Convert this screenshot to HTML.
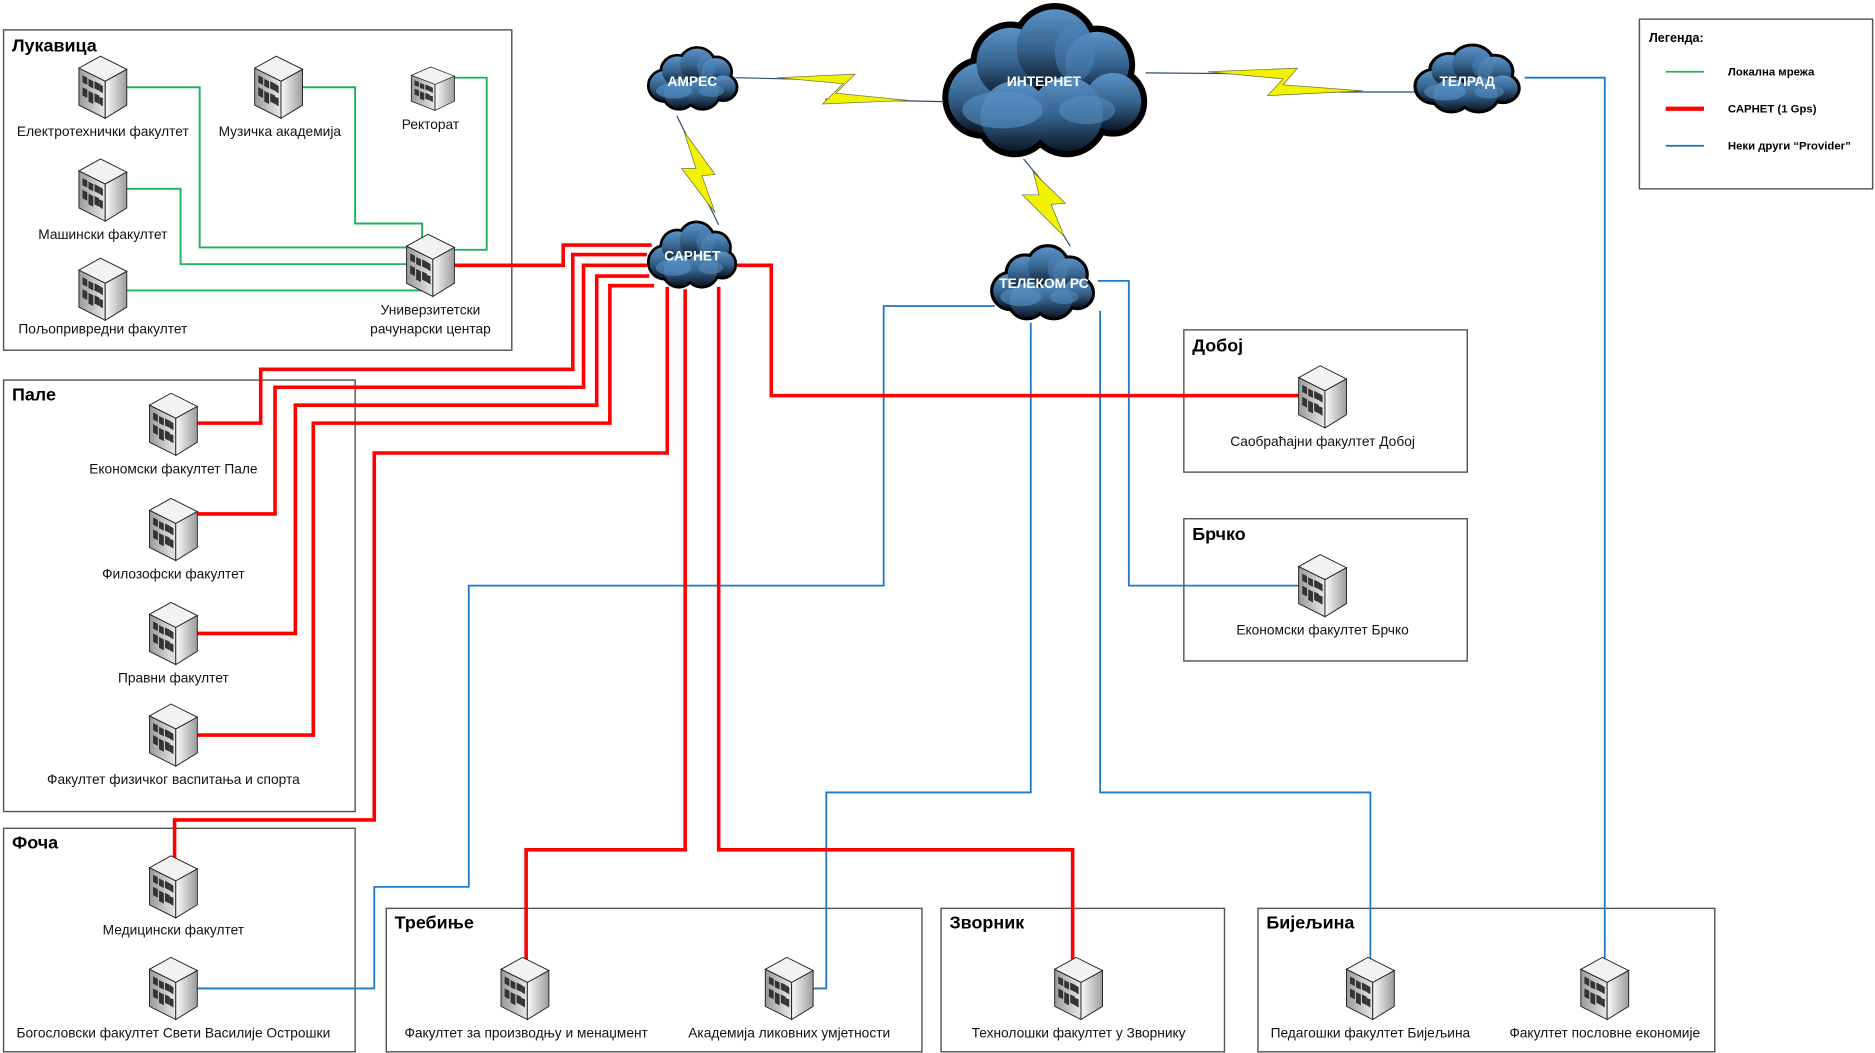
<!DOCTYPE html>
<html><head><meta charset="utf-8"><style>
html,body{margin:0;padding:0;background:#fff}
svg{display:block}
text{font-family:"Liberation Sans",sans-serif}
</style></head><body>
<svg width="1875" height="1053" viewBox="0 0 1568 881" preserveAspectRatio="none" xmlns="http://www.w3.org/2000/svg">
<defs>
<linearGradient id="cg" x1="0" y1="0" x2="0" y2="1"><stop offset="0" stop-color="#5a92c6"/><stop offset="0.5" stop-color="#36648f"/><stop offset="1" stop-color="#0c1726"/></linearGradient>
<linearGradient id="bf" x1="0" y1="0" x2="1" y2="0"><stop offset="0" stop-color="#9a9a9a"/><stop offset="1" stop-color="#e8e8e8"/></linearGradient>
<linearGradient id="bs" x1="0" y1="0" x2="1" y2="0"><stop offset="0" stop-color="#fafafa"/><stop offset="1" stop-color="#9c9c9c"/></linearGradient>
<g id="cloud">
 <g stroke="#000" stroke-width="6" fill="#000">
  <circle cx="20" cy="44" r="17"/><circle cx="34" cy="27" r="17"/><circle cx="56" cy="20" r="19"/><circle cx="77" cy="28" r="16"/><circle cx="85" cy="46" r="14"/><circle cx="62" cy="52" r="18"/><circle cx="36" cy="53" r="17"/>
 </g>
 <g fill="url(#cg)">
  <circle cx="20" cy="44" r="17"/><circle cx="34" cy="27" r="17"/><circle cx="56" cy="20" r="19"/><circle cx="77" cy="28" r="16"/><circle cx="85" cy="46" r="14"/><circle cx="62" cy="52" r="18"/><circle cx="36" cy="53" r="17"/>
 </g>
 <ellipse cx="30" cy="50" rx="20" ry="9" fill="#5a92c6" opacity="0.6"/>
 <ellipse cx="72" cy="50" rx="14" ry="7" fill="#5a92c6" opacity="0.5"/>
 <ellipse cx="66" cy="22" rx="10" ry="14" fill="#4d86ba" opacity="0.5"/>
</g>
<g id="bld">
 <polygon points="0,10 18,0 40,11 22,21" fill="#f2f2f2" stroke="#222" stroke-width="0.8"/>
 <polygon points="0,10 22,21 22,52 0,41" fill="url(#bf)" stroke="#222" stroke-width="0.8"/>
 <polygon points="22,21 40,11 40,41 22,52" fill="url(#bs)" stroke="#222" stroke-width="0.8"/>
 <g fill="#333">
  <polygon points="3,16 7,18 7,24 3,22"/><polygon points="8,19 12,21 12,27 8,25"/><polygon points="13,21 17,23 17,29 13,27"/><polygon points="17,23 20,25 20,31 17,29"/>
  <polygon points="3,26 7,28 7,35 3,33"/><polygon points="8,29 12,31 12,40 8,38"/><polygon points="13,31 17,33 17,40 13,38"/><polygon points="17,34 20,35 20,42 17,40"/>
 </g>
</g>
</defs>

<g fill="none" stroke="#555" stroke-width="1.2">
<rect x="3" y="25" width="425" height="268"/>
<rect x="3" y="318" width="294" height="361"/>
<rect x="3" y="693" width="294" height="187"/>
<rect x="323" y="760" width="448" height="120"/>
<rect x="787" y="760" width="237" height="120"/>
<rect x="1052" y="760" width="382" height="120"/>
<rect x="990" y="276" width="237" height="119"/>
<rect x="990" y="434" width="237" height="119"/>
<rect x="1371" y="16" width="195" height="142"/>
</g>
<g font-weight="bold" font-size="15" fill="#000">
<text x="10" y="43">Лукавица</text>
<text x="10" y="335">Пале</text>
<text x="10" y="710">Фоча</text>
<text x="330" y="777">Требиње</text>
<text x="794" y="777">Зворник</text>
<text x="1059" y="777">Бијељина</text>
<text x="997" y="294">Добој</text>
<text x="997" y="452">Брчко</text>
</g>

<text x="1379" y="35" font-size="10.5" font-weight="bold">Легенда:</text>
<line x1="1393" y1="60" x2="1425" y2="60" stroke="#1fb15a" stroke-width="1.5"/>
<line x1="1393" y1="91" x2="1425" y2="91" stroke="#f00" stroke-width="3.5"/>
<line x1="1393" y1="122" x2="1425" y2="122" stroke="#1f78c8" stroke-width="1.5"/>
<g font-size="9.5" font-weight="bold"><text x="1445" y="63">Локална мрежа</text><text x="1445" y="94">САРНЕТ (1 Gps)</text><text x="1445" y="125">Неки други “Provider”</text></g>

<g fill="none" stroke="#1fb15a" stroke-width="1.6">
<polyline points="106,73 167,73 167,207 340,207"/>
<polyline points="253,73 297,73 297,187 353,187 353,199"/>
<polyline points="378,65 407,65 407,209 380,209"/>
<polyline points="106,158 151,158 151,221 340,221"/>
<polyline points="106,243 353,243 353,237"/>
</g>

<g fill="none" stroke="#1f78c8" stroke-width="1.5">
<polyline points="1275,65 1342,65 1342,805"/>
<polyline points="832,256 739,256 739,490 392,490 392,742 313,742 313,827 165,827"/>
<polyline points="862,270 862,663 691,663 691,827 680,827"/>
<polyline points="918,235 944,235 944,490 1090,490"/>
<polyline points="920,260 920,663 1146,663 1146,805"/>
</g>

<g fill="none" stroke="#f00" stroke-width="3">
<polyline points="380,222 471,222 471,205 545,205"/>
<polyline points="541,213 479,213 479,309 218,309 218,354 165,354"/>
<polyline points="541,222 488,222 488,324 230,324 230,430 165,430"/>
<polyline points="543,231 499,231 499,339 247,339 247,530 165,530"/>
<polyline points="547,239 510,239 510,354 262,354 262,615 165,615"/>
<polyline points="558,240 558,379 313,379 313,686 146,686 146,718"/>
<polyline points="573,242 573,711 440,711 440,805"/>
<polyline points="601,240 601,711 897,711 897,805"/>
<polyline points="615,222 645,222 645,331 1090,331"/>
</g>

<!-- bolts -->
<g stroke="#2b4c70" stroke-width="1" fill="none">
<line x1="615" y1="65" x2="700" y2="67"/><line x1="690" y1="83" x2="788" y2="85"/>
<line x1="958" y1="61" x2="1080" y2="62"/><line x1="1065" y1="77" x2="1184" y2="77"/>
<line x1="566" y1="97" x2="590" y2="145"/><line x1="580" y1="145" x2="601" y2="188"/>
<line x1="856" y1="133" x2="885" y2="168"/><line x1="872" y1="168" x2="895" y2="206"/>
</g>
<g fill="#f2f200" stroke="#6b7040" stroke-width="0.6">
<polygon points="650,65 715,62 699,78 760,84 688,87 705,70"/>
<polygon points="1010,60 1085,57 1073,71 1140,76 1060,80 1073,66"/>
<polygon points="572,110 598,146 587,147 598,178 570,141 582,141"/>
<polygon points="864,144 891,170 879,171 890,198 855,163 869,163"/>
</g>

<use href="#cloud" transform="translate(541,40) scale(0.75,0.72)"/>
<use href="#cloud" transform="translate(788,6) scale(1.68,1.72)"/>
<use href="#cloud" transform="translate(1182,38) scale(0.88,0.78)"/>
<use href="#cloud" transform="translate(541,186) scale(0.74,0.76)"/>
<use href="#cloud" transform="translate(828,206) scale(0.86,0.85)"/>
<g fill="#fff" font-weight="bold" font-size="11.5" text-anchor="middle">
<text x="579" y="72">АМРЕС</text>
<text x="873" y="72">ИНТЕРНЕТ</text>
<text x="1227" y="72">ТЕЛРАД</text>
<text x="579" y="218">САРНЕТ</text>
<text x="873" y="241">ТЕЛЕКОМ РС</text>
</g>

<g>
<use href="#bld" transform="translate(66,47)"/>
<use href="#bld" transform="translate(213,47)"/>
<use href="#bld" transform="translate(344,56) scale(0.9,0.7)"/>
<use href="#bld" transform="translate(66,133)"/>
<use href="#bld" transform="translate(66,216)"/>
<use href="#bld" transform="translate(340,196)"/>
<use href="#bld" transform="translate(125,329)"/>
<use href="#bld" transform="translate(125,417)"/>
<use href="#bld" transform="translate(125,504)"/>
<use href="#bld" transform="translate(125,589)"/>
<use href="#bld" transform="translate(125,716)"/>
<use href="#bld" transform="translate(125,801)"/>
<use href="#bld" transform="translate(419,801)"/>
<use href="#bld" transform="translate(640,801)"/>
<use href="#bld" transform="translate(882,801)"/>
<use href="#bld" transform="translate(1126,801)"/>
<use href="#bld" transform="translate(1322,801)"/>
<use href="#bld" transform="translate(1086,306)"/>
<use href="#bld" transform="translate(1086,464)"/>
</g>

<g font-size="11.5" fill="#111" text-anchor="middle">
<text x="86" y="114">Електротехнички факултет</text>
<text x="234" y="114">Музичка академија</text>
<text x="360" y="108">Ректорат</text>
<text x="86" y="200">Машински факултет</text>
<text x="86" y="279">Пољопривредни факултет</text>
<text x="360" y="263">Универзитетски</text>
<text x="360" y="279">рачунарски центар</text>
<text x="145" y="396">Економски факултет Пале</text>
<text x="145" y="484">Филозофски факултет</text>
<text x="145" y="571">Правни факултет</text>
<text x="145" y="656">Факултет физичког васпитања и спорта</text>
<text x="145" y="782">Медицински факултет</text>
<text x="145" y="868">Богословски факултет Свети Василије Острошки</text>
<text x="440" y="868">Факултет за производњу и менаџмент</text>
<text x="660" y="868">Академија ликовних умјетности</text>
<text x="902" y="868">Технолошки факултет у Зворнику</text>
<text x="1146" y="868">Педагошки факултет Бијељина</text>
<text x="1342" y="868">Факултет пословне економије</text>
<text x="1106" y="373">Саобраћајни факултет Добој</text>
<text x="1106" y="531">Економски факултет Брчко</text>
</g>
</svg>
</body></html>
